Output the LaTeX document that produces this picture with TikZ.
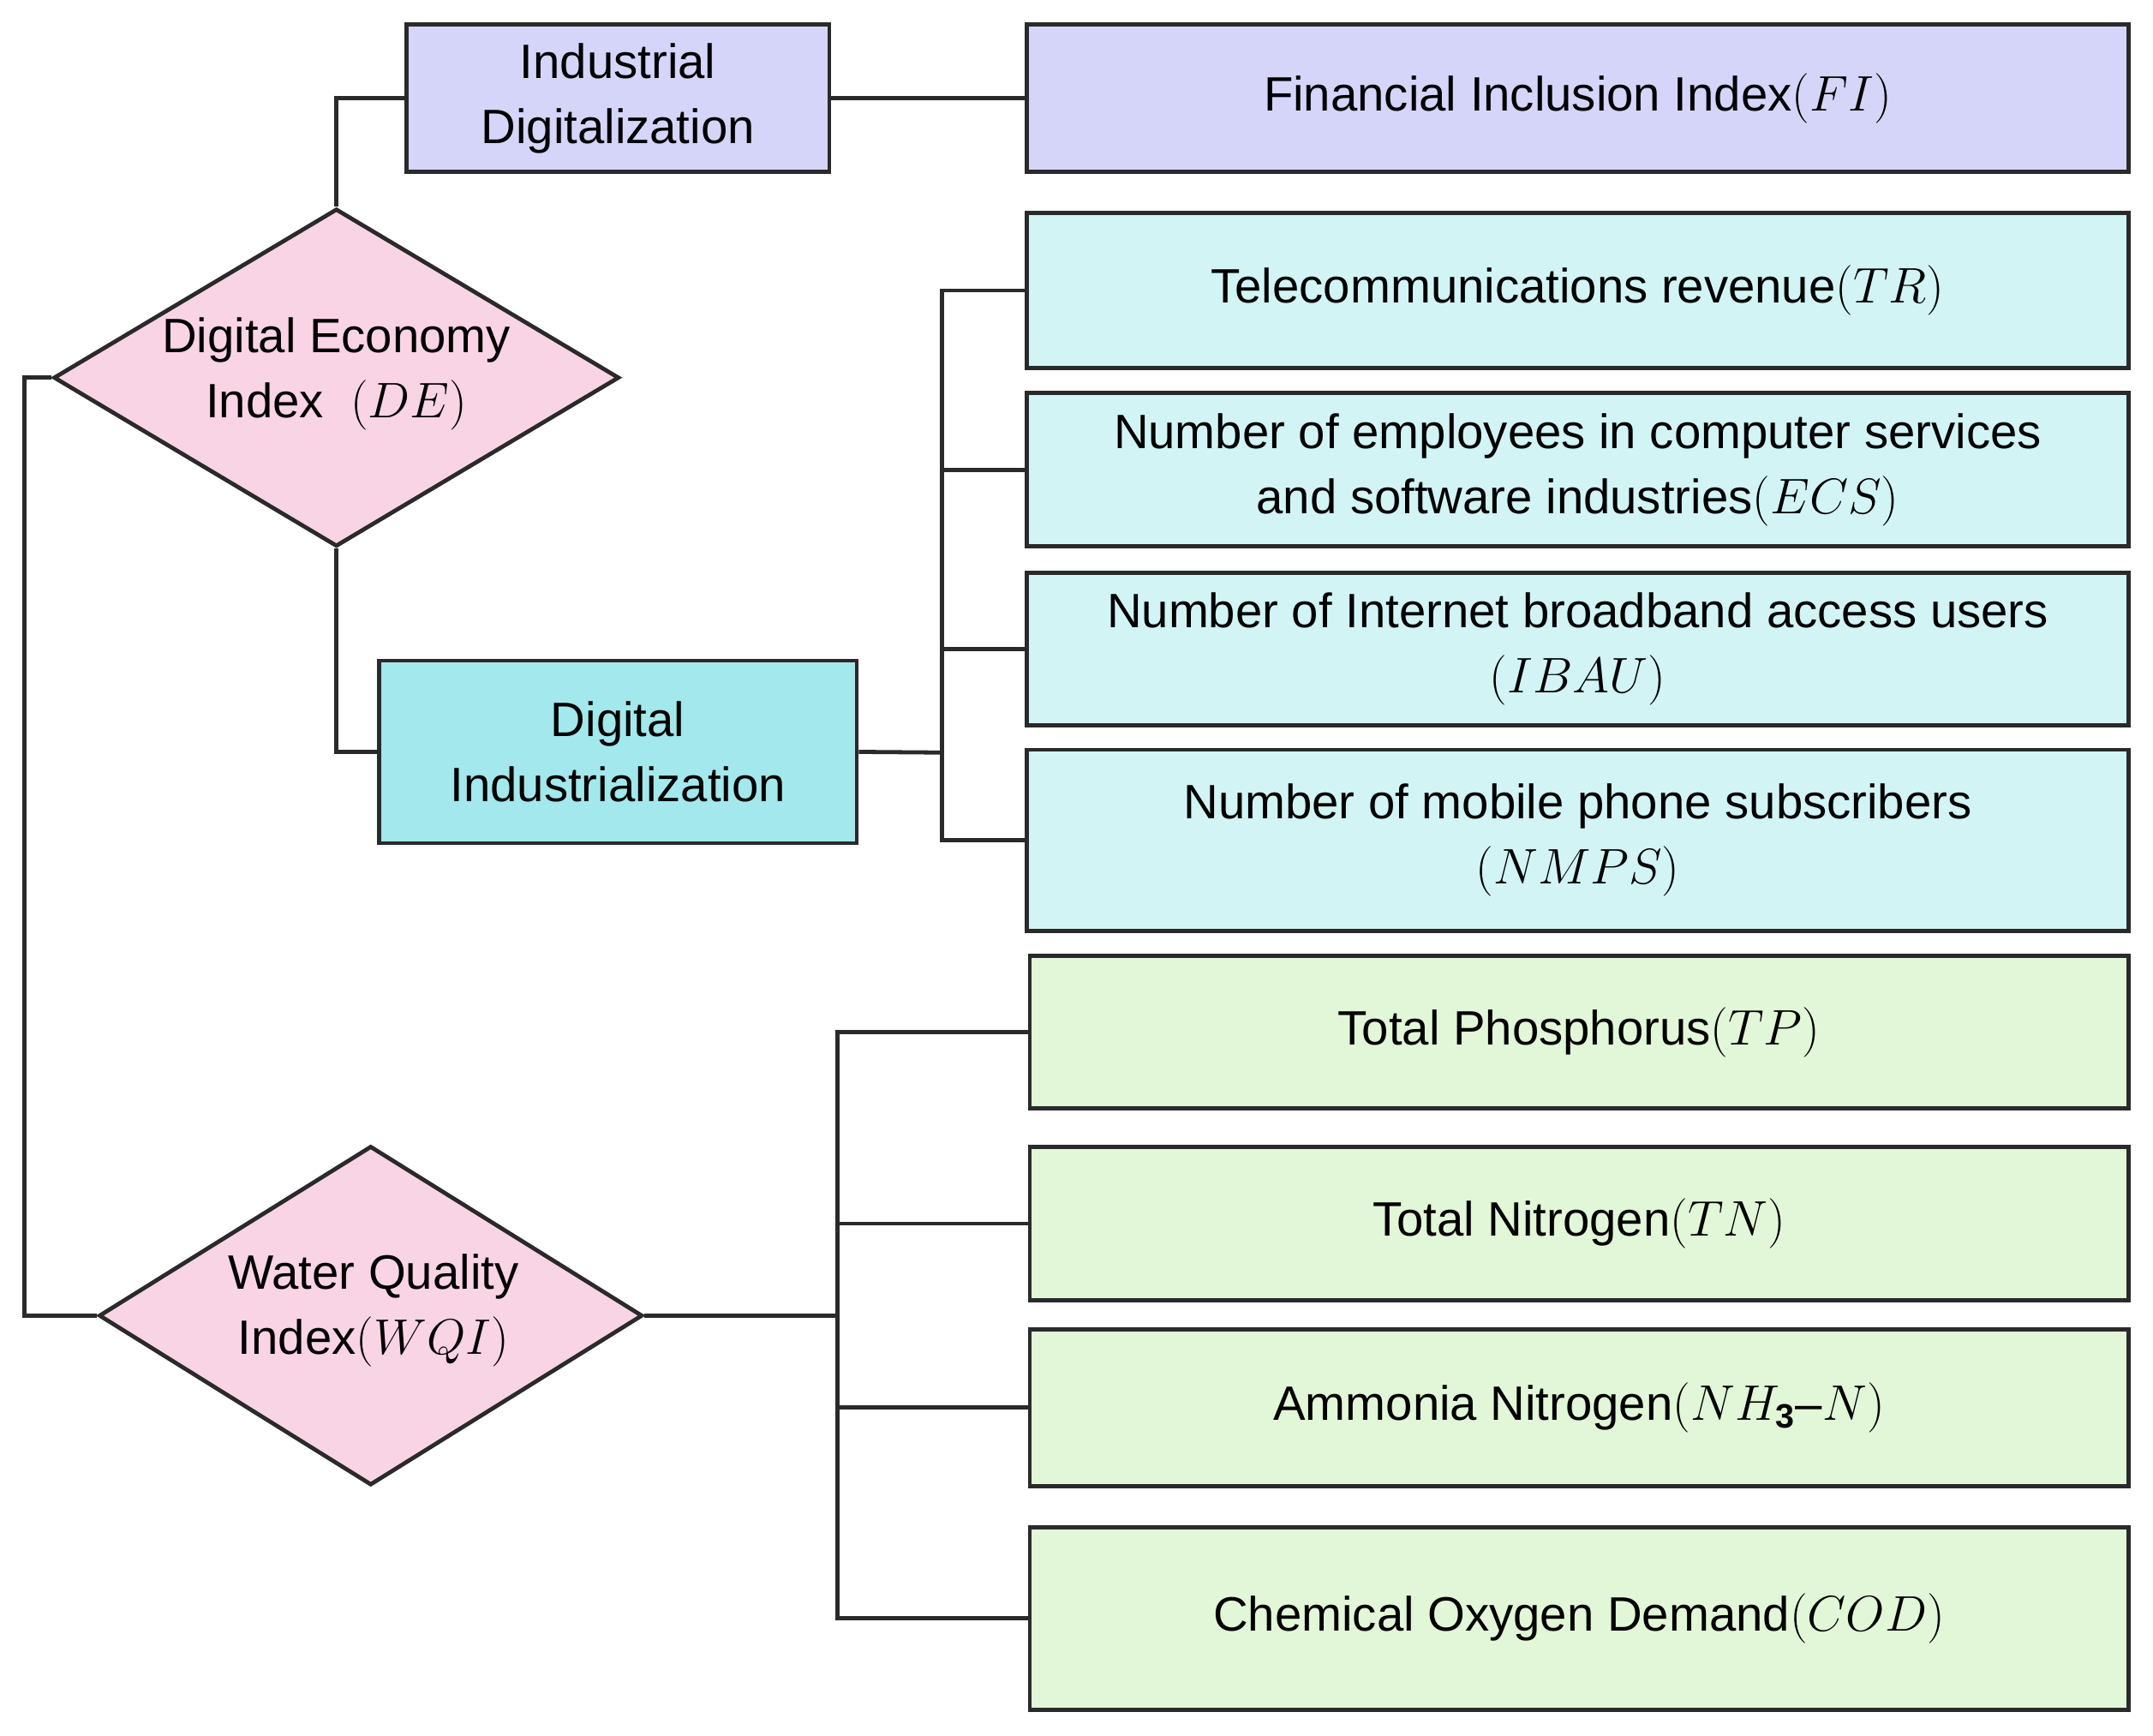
\documentclass[tikz,border=0pt]{standalone}
\usepackage{fontspec}
\setmainfont{Liberation Sans}
\usetikzlibrary{shapes.geometric}
\definecolor{lav}{HTML}{D4D5F8}
\definecolor{cyl}{HTML}{D2F4F4}
\definecolor{cyd}{HTML}{A2E8EC}
\definecolor{grl}{HTML}{E2F6D8}
\definecolor{pnk}{HTML}{F9D4E4}
\definecolor{edge}{HTML}{2A2A2A}
\begin{document}
\begin{tikzpicture}[x=0.02cm,y=-0.02cm,
 box/.style={draw=edge,line width=1.7pt,align=center,font=\fontsize{20}{27}\selectfont,inner sep=0pt},
 dia/.style={draw=edge,line width=1.7pt,fill=pnk,diamond,inner sep=0pt},
 lbl/.style={align=center,font=\fontsize{20}{27}\selectfont},
 ln/.style={draw=edge,line width=1.7pt}]
\useasboundingbox (0,0) rectangle (1568,1264);
\newcommand{\bx}[6]{\node[box,fill=#6,minimum width={(#3-#2)*0.02cm},minimum height={(#5-#4)*0.02cm}] (#1) at ({(#2+#3)/2},{(#4+#5)/2})}
\bx{ID}{296}{604}{18}{125}{lav} {Industrial\\Digitalization};
\bx{FI}{748}{1550}{18}{125}{lav} {Financial Inclusion Index$(FI)$};
\bx{TR}{748}{1550}{155}{268}{cyl} {Telecommunications revenue$(TR)$};
\bx{ECS}{748}{1550}{286}{398}{cyl} {Number of employees in computer services\\and software industries$(ECS)$};
\bx{IBAU}{748}{1550}{417}{528}{cyl} {Number of Internet broadband access users\\$(IBAU)$};
\bx{NMPS}{748}{1550}{546}{678}{cyl} {Number of mobile phone subscribers\\$(NMPS)$};
\bx{DI}{276}{624}{481}{614}{cyd} {Digital\\Industrialization};
\bx{TP}{750}{1550}{696}{807}{grl} {Total Phosphorus$(TP)$};
\bx{TN}{750}{1550}{835}{947}{grl} {Total Nitrogen$(TN)$};
\bx{NH}{750}{1550}{968}{1082}{grl} {Ammonia Nitrogen$(NH_{\mathbf{3}}$--$N)$};
\bx{COD}{750}{1550}{1112}{1245}{grl} {Chemical Oxygen Demand$(COD)$};
\node[dia,minimum width=8.24cm,minimum height=4.92cm] (DE) at (245,275) {};
\node[lbl] (DEt) at (245,272) {Digital Economy\\Index\ \ $(DE)$};
\node[dia,minimum width=7.92cm,minimum height=4.94cm] (WQI) at (270,958) {};
\node[lbl] (WQIt) at (272,954) {Water Quality\\Index$(WQI)$};
\coordinate (b1) at (686,548);
\coordinate (b2) at (610,958);
\coordinate (l1) at (18,275);
\draw[ln] (DE.north) |- (ID.west);
\draw[ln] (ID.east) -- (FI.west);
\draw[ln] (DE.south) |- (DI.west);
\draw[ln] (DI.east) -- (b1);
\foreach \n in {TR,ECS,IBAU,NMPS} \draw[ln] (b1) |- (\n.west);
\draw[ln] (DE.west) -- (l1) |- (WQI.west);
\draw[ln] (WQI.east) -- (b2);
\foreach \n in {TP,TN,NH,COD} \draw[ln] (b2) |- (\n.west);
\end{tikzpicture}
\end{document}
